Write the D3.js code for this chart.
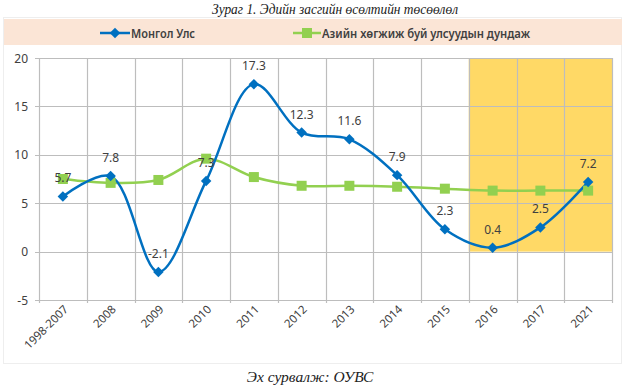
<!DOCTYPE html>
<html><head><meta charset="utf-8">
<script src="https://cdn.jsdelivr.net/npm/d3@7"></script>
<style>body{margin:0;background:#fff}svg{display:block}</style>
</head><body>
<script>
const categories = ["1998-2007","2008","2009","2010","2011","2012","2013","2014","2015","2016","2017","2021"];
const mongolia = [5.7,7.8,-2.1,7.3,17.3,12.3,11.6,7.9,2.3,0.4,2.5,7.2];
const asia = [7.5,7.1,7.4,9.6,7.7,6.8,6.8,6.7,6.5,6.3,6.3,6.3];
const yTicks = [-5,0,5,10,15,20];
const highlightStart = "2016";
const seriesNames = ["Монгол Улс","Азийн хөгжиж буй улсуудын дундаж"];

const W=636,H=390;
const svg=d3.select("body").append("svg").attr("width",W).attr("height",H);
const font="'Noto Sans', 'Open Sans', sans-serif";

// title
svg.append("text").attr("x",335).attr("y",14).attr("text-anchor","middle")
  .attr("font-family","'Liberation Serif', serif").attr("font-style","italic").attr("font-size",15)
  .attr("textLength",246).attr("lengthAdjust","spacingAndGlyphs")
  .attr("fill","#222").text("Зураг 1. Эдийн засгийн өсөлтийн төсөөлөл");
// chart border
svg.append("rect").attr("x",3.5).attr("y",17.5).attr("width",618).attr("height",346)
  .attr("fill","none").attr("stroke","#eee");
// legend band
svg.append("rect").attr("x",4).attr("y",19).attr("width",618).attr("height",26).attr("fill","#FBE5D6");

const x=d3.scaleBand().domain(categories).range([39,612]);
const y=d3.scaleLinear().domain([-5,20]).range([300,58]);

// highlight
svg.append("rect").attr("x",x(highlightStart)).attr("y",y(20))
  .attr("width",612-x(highlightStart)).attr("height",y(0)-y(20)).attr("fill","#FFD966");

// grid
const g=svg.append("g");
g.selectAll(".h").data(yTicks).join("line").attr("x1",35).attr("x2",612)
  .attr("y1",d=>Math.round(y(d))+0.5).attr("y2",d=>Math.round(y(d))+0.5).attr("stroke","#BDBDBD").attr("stroke-width",1.2);
const vx=categories.map(c=>x(c)).concat([612]);
g.selectAll(".v").data(vx).join("line").attr("x1",d=>Math.round(d)+0.5).attr("x2",d=>Math.round(d)+0.5)
  .attr("y1",y(20)).attr("y2",y(-5)+3).attr("stroke","#BDBDBD").attr("stroke-width",1.2);

// y labels
svg.selectAll(".yl").data(yTicks).join("text").attr("x",28).attr("y",d=>y(d)+4.5)
  .attr("text-anchor","end").attr("font-family",font).attr("font-size",12).attr("fill","#404040").text(d=>d);
// x labels
svg.selectAll(".xl").data(categories).join("text")
  .attr("transform",d=>`translate(${x(d)+x.bandwidth()/2+6},${310}) rotate(-45)`)
  .attr("text-anchor","end").attr("font-family",font).attr("font-size",11.5).attr("fill","#404040").text(d=>d);

const cx=d=>x(d)+x.bandwidth()/2;
const line=d3.line().x((d,i)=>cx(categories[i])).y(d=>y(d)).curve(d3.curveCatmullRom.alpha(0.5));

svg.append("path").attr("d",line(asia)).attr("fill","none").attr("stroke","#92D050").attr("stroke-width",2.5);
svg.append("path").attr("d",line(mongolia)).attr("fill","none").attr("stroke","#0070C0").attr("stroke-width",2.5);

svg.selectAll(".gs").data(asia).join("rect").attr("x",(d,i)=>cx(categories[i])-5).attr("y",d=>y(d)-5)
  .attr("width",10).attr("height",10).attr("fill","#92D050");
const diamond=d3.symbol().type(d3.symbolDiamond2).size(70);
svg.selectAll(".bd").data(mongolia).join("path").attr("d",diamond)
  .attr("transform",(d,i)=>`translate(${cx(categories[i])},${y(d)})`).attr("fill","#0070C0");

svg.selectAll(".lab").data(mongolia).join("text").attr("x",(d,i)=>cx(categories[i])).attr("y",d=>y(d)-14)
  .attr("text-anchor","middle").attr("font-family",font).attr("font-size",12).attr("fill","#404040").text(d=>d);

// legend
const lg=svg.append("g");
lg.append("line").attr("x1",100).attr("x2",130).attr("y1",33).attr("y2",33).attr("stroke","#0070C0").attr("stroke-width",2.5);
lg.append("path").attr("d",diamond).attr("transform","translate(115,33)").attr("fill","#0070C0");
lg.append("text").attr("x",131).attr("y",37.5).attr("font-family",font).attr("font-weight",600).attr("font-size",12.5)
  .attr("textLength",64).attr("lengthAdjust","spacingAndGlyphs").attr("fill","#404040").text(seriesNames[0]);
lg.append("line").attr("x1",293).attr("x2",321).attr("y1",33).attr("y2",33).attr("stroke","#92D050").attr("stroke-width",2.5);
lg.append("rect").attr("x",302).attr("y",28).attr("width",10).attr("height",10).attr("fill","#92D050");
lg.append("text").attr("x",322).attr("y",37.5).attr("font-family",font).attr("font-weight",600).attr("font-size",12.5)
  .attr("textLength",208).attr("lengthAdjust","spacingAndGlyphs").attr("fill","#404040").text(seriesNames[1]);

// source
svg.append("text").attr("x",310).attr("y",382).attr("text-anchor","middle")
  .attr("font-family","'Liberation Serif', serif").attr("font-style","italic").attr("font-size",15.5)
  .attr("fill","#222").text("Эх сурвалж: ОУВС");
</script>
</body></html>
